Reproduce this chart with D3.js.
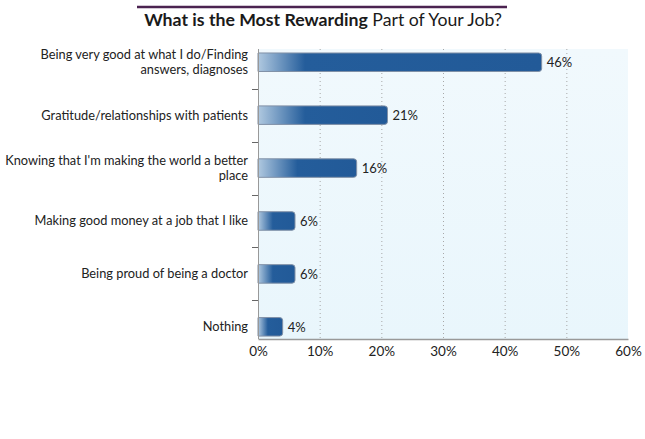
<!DOCTYPE html>
<html><head><meta charset="utf-8">
<script src="https://cdn.jsdelivr.net/npm/d3@7"></script>
<style>body{margin:0;background:#fff;}svg{display:block;font-family:Lato,"Open Sans",sans-serif;}</style>
</head><body><svg id="c" width="645" height="439"></svg>
<script>
const categories = [
  ["Being very good at what I do/Finding", "answers, diagnoses"],
  ["Gratitude/relationships with patients"],
  ["Knowing that I'm making the world a better", "place"],
  ["Making good money at a job that I like"],
  ["Being proud of being a doctor"],
  ["Nothing"]
];
const values = [46, 21, 16, 6, 6, 4];
const xTicks = [0, 10, 20, 30, 40, 50, 60];

(function(){
const svg = d3.select("#c");
const pL = 258, pR = 628, pT = 49, pB = 339;
const x = d3.scaleLinear().domain([0, 60]).range([pL, pR]);
const y = d3.scaleLinear().domain([-0.25, 5.23]).range([pT, pB]);
const barH = 18.5;

const defs = svg.append("defs");
const bg = defs.append("linearGradient").attr("id", "bg").attr("x1", 0).attr("y1", 0).attr("x2", 0).attr("y2", 1);
bg.append("stop").attr("offset", 0).attr("stop-color", "#f1f9fd");
bg.append("stop").attr("offset", 1).attr("stop-color", "#e9f6fc");

// title
svg.append("line").attr("x1", 137).attr("x2", 507).attr("y1", 7).attr("y2", 7)
  .attr("stroke", "#4b2350").attr("stroke-width", 2.5);
const t = svg.append("text").attr("x", 323).attr("y", 26).attr("text-anchor", "middle")
  .attr("font-size", 17.7).attr("fill", "#1a1a1a");
t.append("tspan").attr("font-weight", "bold").text("What is the Most Rewarding");
t.append("tspan").text(" Part of Your Job?");

// plot background
svg.append("rect").attr("x", pL).attr("y", pT).attr("width", pR - pL).attr("height", pB - pT)
  .attr("fill", "url(#bg)");

// grid
svg.append("g").selectAll("line").data(xTicks.filter(d => d > 0 && d < 60)).join("line")
  .attr("x1", d => x(d) + 0.5).attr("x2", d => x(d) + 0.5).attr("y1", pT).attr("y2", pB)
  .attr("stroke", "#a8a8a8").attr("stroke-width", 1).attr("stroke-dasharray", "1,3");

// bars
values.forEach((v, i) => {
  const w = x(v) - x(0);
  const off = Math.min(47, 0.4 * w) / w;
  const g = defs.append("linearGradient").attr("id", "bar" + i).attr("x1", 0).attr("x2", 1).attr("y1", 0).attr("y2", 0);
  g.append("stop").attr("offset", 0).attr("stop-color", "#b0c9e0");
  g.append("stop").attr("offset", off * 0.35).attr("stop-color", "#7fa3c8");
  g.append("stop").attr("offset", off).attr("stop-color", "#245d9b");
  g.append("stop").attr("offset", 1).attr("stop-color", "#225a98");
});
svg.append("g").selectAll("path").data(values).join("path")
  .attr("d", (v, i) => {
    const x0 = x(0), x1 = x(v), y0 = y(i) - barH / 2, y1 = y(i) + barH / 2, r = 3;
    return `M${x0},${y0}H${x1 - r}Q${x1},${y0} ${x1},${y0 + r}V${y1 - r}Q${x1},${y1} ${x1 - r},${y1}H${x0}Z`;
  })
  .attr("fill", (v, i) => `url(#bar${i})`)
  .attr("stroke", "#8090a6").attr("stroke-width", 1);

// value labels
svg.append("g").selectAll("text").data(values).join("text")
  .attr("x", v => x(v) + 5).attr("y", (v, i) => y(i) + 5)
  .attr("font-size", 13).attr("fill", "#222").text(v => v + "%");

// y axis
svg.append("line").attr("x1", pL + 0.5).attr("x2", pL + 0.5).attr("y1", pT).attr("y2", pB)
  .attr("stroke", "#999");
svg.append("g").selectAll("line").data(d3.range(5)).join("line")
  .attr("x1", pL - 6).attr("x2", pL).attr("y1", d => Math.round(y(d + 0.5)) + 0.5).attr("y2", d => Math.round(y(d + 0.5)) + 0.5)
  .attr("stroke", "#666");

// category labels
const lab = svg.append("g").selectAll("text").data(categories).join("text")
  .attr("text-anchor", "end").attr("font-size", 12.8).attr("fill", "#222");
lab.each(function(lines, i) {
  const n = lines.length;
  d3.select(this).selectAll("tspan").data(lines).join("tspan")
    .attr("x", 248)
    .attr("y", (d, k) => y(i) + 4.5 + (k - (n - 1) / 2) * 15)
    .text(d => d);
});

// x axis
const xa = svg.append("g").attr("transform", `translate(0,${pB})`)
  .call(d3.axisBottom(x).tickValues(xTicks).tickFormat(d => d + "%").tickSize(0).tickPadding(7));
xa.select(".domain").attr("stroke", "#999").attr("stroke-width", 1.5);
xa.selectAll("text").attr("font-size", 13.5).attr("fill", "#222").attr("font-family", "Lato,'Open Sans',sans-serif");
})();
</script></body></html>
